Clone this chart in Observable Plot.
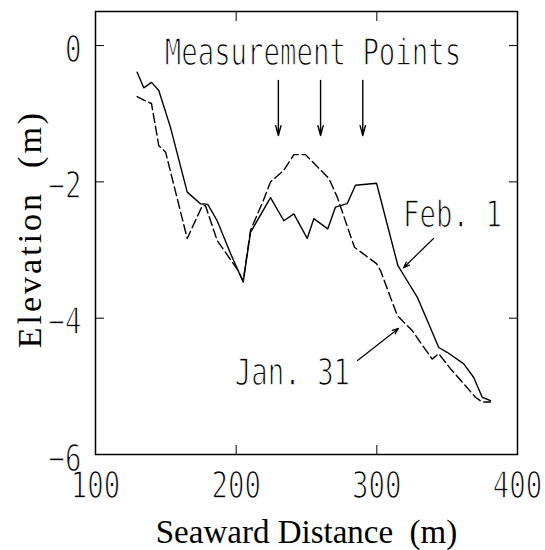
<!DOCTYPE html>
<html><head><meta charset="utf-8">
<script src="https://cdn.jsdelivr.net/npm/d3@7"></script>
<script src="https://cdn.jsdelivr.net/npm/@observablehq/plot@0.6"></script>
<style>html,body{margin:0;padding:0;background:#fff;}</style>
</head><body><div id="chart"></div>
<script>
// Feb. 1 profile (solid)
const febX = [129.6,134.3,139.8,145.0,153.3,165.2,174.6,179.8,186.5,196.0,205.0,210.2,224.4,233.9,241.0,250.5,255.2,265.1,270.6,278.9,284.8,299.8,315.0,319.2,328.7,335.8,344.0,350.0,361.8,368.9,374.9,380.8];
const febY = [-0.39,-0.62,-0.54,-0.66,-1.20,-2.15,-2.32,-2.33,-2.57,-3.05,-3.47,-2.74,-2.23,-2.57,-2.47,-2.83,-2.54,-2.69,-2.37,-2.32,-2.05,-2.02,-3.23,-3.37,-3.69,-4.03,-4.43,-4.50,-4.67,-4.87,-5.16,-5.21];
// Jan. 31 profile (dashed)
const janX = [129.6,134.3,139.8,145.0,149.8,165.2,175.9,178.2,186.5,200.7,205.0,210.2,219.4,224.4,233.9,241.0,249.3,265.9,271.8,284.1,299.8,302.6,314.5,325.1,339.3,344.0,352.3,370.1,374.9,380.8];
const janY = [-0.75,-0.80,-0.85,-1.47,-1.56,-2.83,-2.35,-2.35,-2.86,-3.28,-3.45,-2.71,-2.27,-2.00,-1.83,-1.60,-1.60,-1.95,-2.22,-2.96,-3.20,-3.30,-3.96,-4.18,-4.60,-4.52,-4.74,-5.16,-5.23,-5.23];

const xTicks = [100, 200, 300, 400];
const yTicks = [0, -2, -4, -6];
const innerXTicks = [200, 300];
const innerYTicks = [0, -2, -4];

// annotations
const measureTitle = ["Measurement Points"];
const measureTitleX = [254.6];
const measureTitleY = [-0.11];
const measureX = [230, 260, 290];
const measureTop = [-0.51, -0.51, -0.51];
const measureBottom = [-1.32, -1.32, -1.32];
const seriesLabels = ["Feb. 1", "Jan. 31"];
const seriesLabelX = [353.8, 240.0];
const seriesLabelY = [-2.49, -4.80];
const leaderX1 = [340.3, 286.3];
const leaderY1 = [-2.83, -4.62];
const leaderX2 = [319.0, 315.4];
const leaderY2 = [-3.26, -4.15];

const mono = "DejaVu Sans Mono";
const serif = "Liberation Serif";

const feb = febX.map((x, i) => ({x, y: febY[i]}));
const jan = janX.map((x, i) => ({x, y: janY[i]}));
const arrows = measureX.map((x, i) => ({x, y1: measureTop[i], y2: measureBottom[i]}));
const titleData = measureTitle.map((t, i) => ({t, x: measureTitleX[i], y: measureTitleY[i]}));
const labelData = seriesLabels.map((t, i) => ({t, x: seriesLabelX[i], y: seriesLabelY[i]}));
const leaders = leaderX1.map((x, i) => ({x1: x, y1: leaderY1[i], x2: leaderX2[i], y2: leaderY2[i]}));
const fmt = d => (d < 0 ? "\u2212" : "") + Math.abs(d);

const chart = Plot.plot({
  width: 545, height: 550,
  marginTop: 11, marginLeft: 95, marginRight: 28, marginBottom: 96,
  x: {domain: [100, 400]},
  y: {domain: [-6, 0.5]},
  style: {background: "white", color: "black", overflow: "visible"},
  marks: [
    Plot.frame({stroke: "black", strokeWidth: 1.5}),
    Plot.axisX(xTicks, {anchor: "bottom", tickSize: 0, tickPadding: 17, fontSize: 38, fontFamily: mono, label: null, tickFormat: fmt}),
    Plot.axisX(innerXTicks, {anchor: "bottom", tickSize: -9, tickFormat: () => "", label: null}),
    Plot.axisX(innerXTicks, {anchor: "top", tickSize: -9, tickFormat: () => "", label: null}),
    Plot.axisY(yTicks, {anchor: "left", tickSize: 0, tickPadding: 14, fontSize: 38, fontFamily: mono, label: null, dy: 4, tickFormat: fmt}),
    Plot.axisY(innerYTicks, {anchor: "left", tickSize: -9, tickFormat: () => "", label: null}),
    Plot.axisY(innerYTicks, {anchor: "right", tickSize: -9, tickFormat: () => "", label: null}),
    Plot.line(jan, {x: "x", y: "y", stroke: "black", strokeWidth: 1.4, strokeDasharray: "9,4"}),
    Plot.line(feb, {x: "x", y: "y", stroke: "black", strokeWidth: 1.4}),
    Plot.arrow(arrows, {x: "x", y1: "y1", y2: "y2", stroke: "black", strokeWidth: 1.4, headLength: 11, headAngle: 30}),
    Plot.arrow(leaders, {x1: "x1", y1: "y1", x2: "x2", y2: "y2", stroke: "black", strokeWidth: 1.2, headLength: 8, headAngle: 40}),
    Plot.text(titleData, {x: "x", y: "y", text: "t", fontSize: 38, fontFamily: mono, fill: "black"}),
    Plot.text(labelData, {x: "x", y: "y", text: "t", fontSize: 38, fontFamily: mono, fill: "black"}),
    Plot.text(["Seaward Distance  (m)"], {text: d => d, frameAnchor: "bottom", textAnchor: "middle", lineAnchor: "middle", dy: 78, fontSize: 33, fontFamily: serif, fill: "black"}),
    Plot.text(["Elevation  (m)"], {text: d => d, frameAnchor: "left", textAnchor: "middle", lineAnchor: "middle", dx: -65, dy: -4, rotate: -90, fontSize: 34, fontFamily: serif, fill: "black"})
  ]
});

document.getElementById("chart").appendChild(chart);

// condense the plotter-style monospace text horizontally around its anchor, and thin its strokes
const svgns = "http://www.w3.org/2000/svg";
chart.querySelectorAll("g[font-family='" + mono + "'] text").forEach(t => {
  if (!t.textContent) return;
  const r = t.getBoundingClientRect();
  const ta = getComputedStyle(t).textAnchor;
  const sx = ta === "start" ? r.left : ta === "end" ? r.right : (r.left + r.right) / 2;
  const parent = t.parentNode;
  const m = parent.getScreenCTM();
  const cx = (sx - m.e) / m.a;
  const g = document.createElementNS(svgns, "g");
  g.setAttribute("transform", `translate(${cx},0) scale(0.72,1) translate(${-cx},0)`);
  parent.insertBefore(g, t);
  g.appendChild(t);
  t.setAttribute("stroke", "white");
  t.setAttribute("stroke-width", "1.3");
  t.setAttribute("paint-order", "normal");
});
chart.querySelectorAll("g[font-family='" + serif + "'] text").forEach(t => {
  if (t.textContent.startsWith("Elevation")) t.setAttribute("letter-spacing", "3");
});
</script>
</body></html>
